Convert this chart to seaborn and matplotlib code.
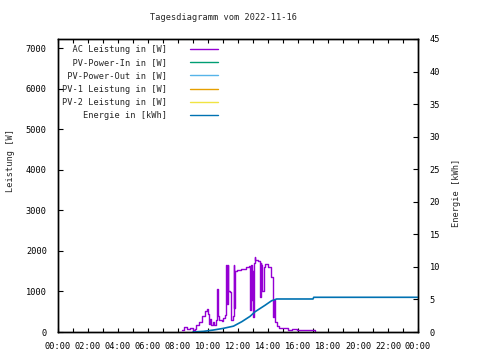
import matplotlib
matplotlib.use("Agg")
import matplotlib.pyplot as plt
from matplotlib.ticker import MultipleLocator, FuncFormatter
import seaborn as sns
import pandas as pd

# --- data (hours of day) ---
ac_hours = [8.27, 8.4, 8.6, 8.8, 9.0, 9.1, 9.2, 9.4, 9.6, 9.8, 9.93, 10.0, 10.05, 10.1,
            10.2, 10.3, 10.4, 10.5, 10.58, 10.65, 10.75, 10.9, 11.0, 11.1, 11.2, 11.25,
            11.3, 11.35, 11.45, 11.55, 11.65, 11.7, 11.75, 11.8, 11.9, 12.2, 12.5, 12.75,
            12.8, 12.85, 12.9, 12.95, 13.0, 13.05, 13.1, 13.13, 13.3, 13.45, 13.5, 13.55,
            13.6, 13.7, 13.8, 14.0, 14.2, 14.3, 14.36, 14.4, 14.45, 14.6, 14.7, 15.0,
            15.3, 15.6, 15.9, 16.2, 16.5, 16.8, 17.1]
ac_watt = [60, 120, 80, 110, 60, 70, 170, 250, 400, 520, 570, 450, 200, 330,
           180, 250, 180, 300, 1070, 400, 300, 270, 350, 420, 1650, 700,
           1650, 1000, 990, 300, 400, 1650, 600, 1500, 1530, 1560, 1600, 1620,
           540, 1650, 800, 1500, 370, 1700, 1850, 1780, 1750, 860, 1700, 1650,
           1000, 1600, 1680, 1600, 1360, 790, 370, 800, 250, 150, 100, 90,
           60, 80, 50, 60, 40, 50, 30]

energy_hours = [9.0, 9.7, 10.35, 11.0, 11.7, 12.25, 12.8, 13.13, 13.8, 14.24, 14.58,
                17.0, 17.05, 24.0]
energy_kwh = [0.0, 0.1, 0.3, 0.55, 0.9, 1.58, 2.4, 3.1, 4.1, 4.8, 5.07,
              5.07, 5.33, 5.33]

series_labels = ["AC Leistung in [W]", "PV-Power-In in [W]", "PV-Power-Out in [W]",
                 "PV-1 Leistung in [W]", "PV-2 Leistung in [W]", "Energie in [kWh]"]
series_colors = ["#9400d3", "#009e73", "#56b4e9", "#e69f00", "#f0e442", "#0072b2"]

ac = pd.DataFrame({"hour": ac_hours, "watt": ac_watt})
energy = pd.DataFrame({"hour": energy_hours, "kwh": energy_kwh})

sns.set_theme(style="white")
plt.rcParams["font.family"] = ["DejaVu Sans Mono"]
fs = 6.2

fig = plt.figure(figsize=(4.8, 3.6), dpi=100)
ax = fig.add_axes([58 / 480, 28 / 360, 360 / 480, 293 / 360])
ax2 = ax.twinx()

sns.lineplot(data=ac, x="hour", y="watt", ax=ax, color=series_colors[0],
             linewidth=1, drawstyle="steps-post")
sns.lineplot(data=energy, x="hour", y="kwh", ax=ax2, color=series_colors[5],
             linewidth=1.2)

ax.set_xlim(0, 24)
ax.set_ylim(0, 7222)
ax2.set_ylim(0, 45)

ax.xaxis.set_major_locator(MultipleLocator(2))
ax.xaxis.set_minor_locator(MultipleLocator(1))
ax.xaxis.set_major_formatter(FuncFormatter(lambda h, _: f"{int(round(h)) % 24:02d}:00"))
ax.yaxis.set_major_locator(MultipleLocator(1000))
ax2.yaxis.set_major_locator(MultipleLocator(5))

ax.tick_params(axis="x", which="both", direction="in", length=3, width=0.8,
               top=True, bottom=True, labelsize=fs, pad=7, colors="black")
ax.tick_params(axis="y", direction="in", length=3.5, width=0.8, left=True,
               labelsize=fs, pad=8, colors="black")
ax2.tick_params(axis="y", direction="in", length=3.5, width=0.8, right=True,
                labelsize=fs, pad=8.5, colors="black")

for a in (ax, ax2):
    for s in a.spines.values():
        s.set_color("black")
        s.set_linewidth(1)
    a.grid(False)

ax.set_xlabel("")
ax.set_ylabel("Leistung [W]", fontsize=fs)
ax.yaxis.set_label_coords(-0.12, 0.587)
ax2.set_ylabel("Energie [kWh]", fontsize=fs)
ax2.yaxis.set_label_coords(1.094, 0.474)

fig.text(223 / 480, 1 - 18 / 360, "Tagesdiagramm vom 2022-11-16", ha="center",
         va="center", fontsize=fs)

# legend, gnuplot style: right-aligned text then line sample
handles = [plt.Line2D([], [], color=c, linewidth=1) for c in series_colors]
width = max(len(s) for s in series_labels)
labels = [s.rjust(width) for s in series_labels]
ax.legend(handles, labels, loc="upper left", bbox_to_anchor=(0.012, 0.98),
          frameon=False, markerfirst=False, fontsize=fs, handlelength=3.3,
          handletextpad=2.6, labelspacing=0.5, borderpad=0, borderaxespad=0)

fig.savefig("out.png", dpi=100)
